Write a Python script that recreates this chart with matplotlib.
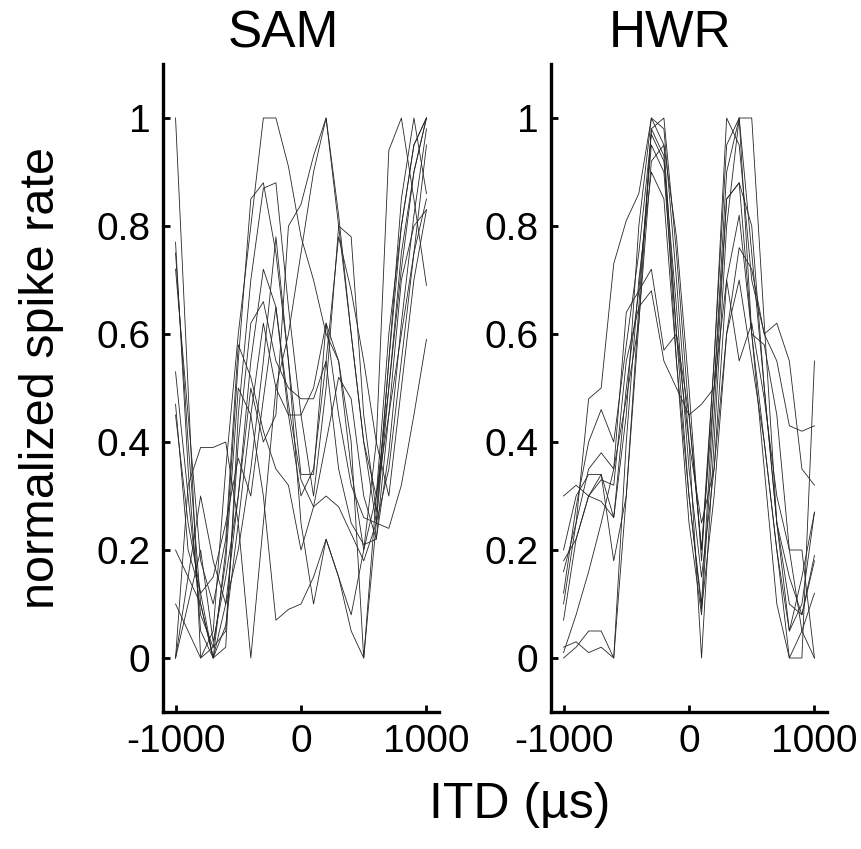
import matplotlib
matplotlib.use("Agg")
import matplotlib.pyplot as plt
import numpy as np

plt.rcParams['font.family'] = ['Liberation Sans', 'DejaVu Sans']

itd = [-1000, -900, -800, -700, -600, -500, -400, -300, -200, -100, 0,
       100, 200, 300, 400, 500, 600, 700, 800, 900, 1000]

sam_1 = [1.00, 0.50, 0.00, 0.05, 0.35, 0.60, 0.80, 1.00, 1.00, 0.91, 0.78, 0.70, 0.60, 0.55, 0.35, 0.20, 0.30, 0.50, 0.72, 0.90, 1.00]
sam_2 = [0.77, 0.35, 0.05, 0.00, 0.20, 0.55, 0.85, 0.88, 0.75, 0.55, 0.34, 0.34, 0.62, 0.55, 0.40, 0.00, 0.30, 0.60, 0.80, 0.95, 1.00]
sam_3 = [0.75, 0.40, 0.10, 0.00, 0.02, 0.45, 0.70, 0.87, 0.88, 0.65, 0.45, 0.30, 0.50, 0.80, 0.78, 0.45, 0.27, 0.55, 0.85, 1.00, 0.86]
sam_4 = [0.53, 0.30, 0.08, 0.02, 0.05, 0.40, 0.62, 0.66, 0.55, 0.50, 0.48, 0.48, 0.55, 0.35, 0.25, 0.21, 0.22, 0.45, 0.70, 0.80, 0.83]
sam_5 = [0.47, 0.20, 0.12, 0.15, 0.25, 0.37, 0.30, 0.48, 0.65, 0.47, 0.33, 0.28, 0.30, 0.28, 0.23, 0.18, 0.25, 0.50, 0.75, 0.90, 1.00]
sam_6 = [0.00, 0.32, 0.39, 0.39, 0.40, 0.25, 0.45, 0.62, 0.50, 0.45, 0.45, 0.50, 0.62, 0.45, 0.32, 0.26, 0.25, 0.24, 0.32, 0.45, 0.59]
sam_7 = [0.00, 0.15, 0.30, 0.18, 0.10, 0.20, 0.35, 0.55, 0.78, 0.55, 0.25, 0.10, 0.22, 0.15, 0.08, 0.20, 0.40, 0.94, 1.00, 0.85, 0.69]
sam_8 = [0.00, 0.10, 0.20, 0.03, 0.15, 0.30, 0.50, 0.40, 0.45, 0.80, 0.84, 0.93, 1.00, 0.82, 0.60, 0.40, 0.25, 0.35, 0.55, 0.75, 0.95]
sam_9 = [0.10, 0.05, 0.00, 0.02, 0.18, 0.50, 0.45, 0.30, 0.07, 0.09, 0.10, 0.15, 0.22, 0.15, 0.05, 0.00, 0.25, 0.55, 0.80, 0.95, 1.00]
sam_10 = [0.20, 0.15, 0.10, 0.00, 0.06, 0.25, 0.00, 0.25, 0.50, 0.60, 0.75, 0.90, 1.00, 0.80, 0.60, 0.40, 0.30, 0.45, 0.60, 0.75, 0.85]
sam_11 = [0.45, 0.25, 0.12, 0.00, 0.10, 0.30, 0.55, 0.72, 0.65, 0.45, 0.30, 0.35, 0.55, 0.78, 0.68, 0.55, 0.40, 0.30, 0.50, 0.70, 0.83]
sam_12 = [0.72, 0.45, 0.18, 0.10, 0.22, 0.58, 0.52, 0.42, 0.35, 0.32, 0.20, 0.28, 0.40, 0.52, 0.48, 0.30, 0.22, 0.38, 0.62, 0.82, 0.98]

hwr_1 = [0.30, 0.32, 0.30, 0.29, 0.26, 0.45, 0.80, 1.00, 0.95, 0.60, 0.30, 0.10, 0.50, 0.90, 1.00, 0.60, 0.58, 0.45, 0.20, 0.05, 0.00]
hwr_2 = [0.20, 0.30, 0.34, 0.34, 0.18, 0.30, 0.65, 0.98, 0.93, 0.55, 0.25, 0.08, 0.45, 0.85, 0.88, 0.60, 0.35, 0.10, 0.00, 0.05, 0.12]
hwr_3 = [0.16, 0.25, 0.48, 0.50, 0.73, 0.81, 0.86, 1.00, 0.98, 0.70, 0.40, 0.00, 0.40, 0.80, 1.00, 0.75, 0.50, 0.25, 0.10, 0.08, 0.19]
hwr_4 = [0.12, 0.28, 0.40, 0.46, 0.40, 0.58, 0.75, 0.97, 0.92, 0.65, 0.35, 0.15, 0.35, 0.70, 0.82, 0.60, 0.40, 0.20, 0.05, 0.15, 0.27]
hwr_5 = [0.07, 0.22, 0.30, 0.34, 0.26, 0.50, 0.68, 0.95, 0.90, 0.60, 0.40, 0.25, 0.35, 0.60, 0.76, 0.72, 0.60, 0.55, 0.43, 0.42, 0.43]
hwr_6 = [0.02, 0.03, 0.01, 0.02, 0.00, 0.30, 0.62, 0.98, 1.00, 0.75, 0.45, 0.20, 0.55, 1.00, 0.95, 0.70, 0.60, 0.62, 0.55, 0.35, 0.32]
hwr_7 = [0.00, 0.02, 0.05, 0.05, 0.00, 0.40, 0.70, 0.90, 0.85, 0.55, 0.30, 0.09, 0.30, 0.60, 0.70, 0.55, 0.40, 0.20, 0.00, 0.00, 0.55]
hwr_8 = [0.10, 0.25, 0.35, 0.38, 0.35, 0.64, 0.68, 0.72, 0.57, 0.60, 0.45, 0.20, 0.50, 0.70, 0.55, 0.62, 0.48, 0.30, 0.20, 0.20, 0.00]
hwr_9 = [0.18, 0.22, 0.30, 0.33, 0.32, 0.55, 0.65, 0.68, 0.55, 0.50, 0.45, 0.47, 0.50, 0.85, 0.88, 0.80, 0.50, 0.25, 0.15, 0.08, 0.18]
hwr_10 = [0.01, 0.08, 0.16, 0.25, 0.35, 0.48, 0.62, 0.92, 0.95, 0.78, 0.50, 0.18, 0.55, 0.95, 1.00, 1.00, 0.62, 0.25, 0.05, 0.10, 0.27]

sam_curves = [sam_1, sam_2, sam_3, sam_4, sam_5, sam_6, sam_7, sam_8, sam_9, sam_10, sam_11, sam_12]
hwr_curves = [hwr_1, hwr_2, hwr_3, hwr_4, hwr_5, hwr_6, hwr_7, hwr_8, hwr_9, hwr_10]

panel_titles = ["SAM", "HWR"]
y_ticks = [0, 0.2, 0.4, 0.6, 0.8, 1.0]
y_ticklabels = ["0", "0.2", "0.4", "0.6", "0.8", "1"]
x_ticks = [-1000, 0, 1000]
x_ticklabels = ["-1000", "0", "1000"]

W, H = 861, 849
fig = plt.figure(figsize=(W / 100, H / 100), dpi=100)

panels = [(163, sam_curves, 283), (551, hwr_curves, 670)]
for (left_px, curves, title_x), title in zip(panels, panel_titles):
    ax = fig.add_axes([left_px / W, 1 - 712 / H, 276 / W, 648 / H])
    for c in curves:
        ax.plot(itd, c, color='#262626', lw=0.6)
    ax.set_xlim(-1100, 1100)
    ax.set_ylim(-0.1, 1.1)
    for s in ['top', 'right']:
        ax.spines[s].set_visible(False)
    for s in ['left', 'bottom']:
        ax.spines[s].set_linewidth(2.4)
    ax.set_yticks(y_ticks)
    ax.set_yticklabels(y_ticklabels)
    ax.set_xticks(x_ticks)
    ax.set_xticklabels(x_ticklabels)
    ax.tick_params(direction='in', length=5, width=2, labelsize=28, pad=9)
    fig.text(title_x / W, 1 - 47 / H, title, ha='center', va='baseline', fontsize=37)

fig.text(520 / W, 1 - 805 / H, "ITD (µs)", ha='center', va='center', fontsize=36)
fig.text(42 / W, 1 - 378 / H, "normalized spike rate", ha='center', va='center',
         rotation=90, fontsize=35)

fig.savefig("out.png", dpi=100)
